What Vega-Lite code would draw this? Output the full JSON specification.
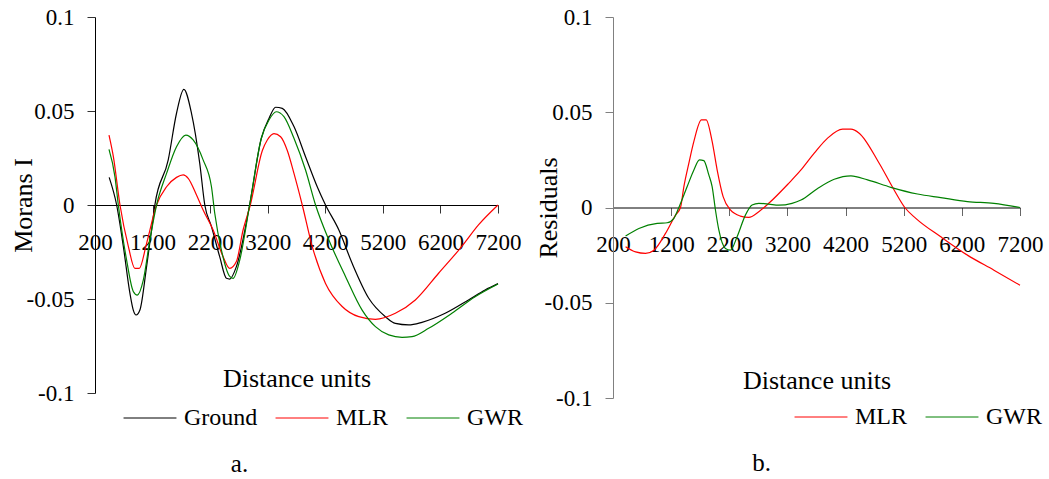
{
  "$schema": "https://vega.github.io/schema/vega-lite/v6.json",
  "background": "white",
  "padding": {"left": 10, "top": 6, "right": 5, "bottom": 5},
  "config": {
    "view": {"stroke": null},
    "font": "Liberation Serif",
    "axis": {"grid": false, "labelFont": "Liberation Serif", "titleFont": "Liberation Serif", "labelFontSize": 23, "titleFontSize": 26, "labelColor": "black", "titleColor": "black", "titleFontWeight": "normal", "domainColor": "black", "tickColor": "#333333", "domainWidth": 1, "tickWidth": 1},
    "legend": {"labelFont": "Liberation Serif", "labelFontSize": 24, "labelColor": "black", "symbolType": "stroke", "symbolSize": 2800, "symbolStrokeWidth": 1, "labelOffset": 7, "columnPadding": 15, "padding": 0, "direction": "horizontal", "orient": "none"},
    "title": {"font": "Liberation Serif", "fontSize": 25, "fontWeight": "normal", "color": "black"}
  },
  "datasets": {
    "left": [
      {"series": "Ground", "d": 446, "v": 0.0147}, {"series": "Ground", "d": 576, "v": 0}, {"series": "Ground", "d": 692, "v": -0.022}, {"series": "Ground", "d": 807, "v": -0.047}, {"series": "Ground", "d": 865, "v": -0.0559}, {"series": "Ground", "d": 914, "v": -0.0585}, {"series": "Ground", "d": 980, "v": -0.0559}, {"series": "Ground", "d": 1096, "v": -0.0328}, {"series": "Ground", "d": 1183, "v": -0.0133}, {"series": "Ground", "d": 1240, "v": 0}, {"series": "Ground", "d": 1472, "v": 0.024}, {"series": "Ground", "d": 1616, "v": 0.0488}, {"series": "Ground", "d": 1743, "v": 0.0615}, {"series": "Ground", "d": 1876, "v": 0.0488}, {"series": "Ground", "d": 2020, "v": 0.022}, {"series": "Ground", "d": 2107, "v": 0}, {"series": "Ground", "d": 2223, "v": -0.0115}, {"series": "Ground", "d": 2366, "v": -0.0275}, {"series": "Ground", "d": 2483, "v": -0.039}, {"series": "Ground", "d": 2540, "v": -0.0394}, {"series": "Ground", "d": 2656, "v": -0.0328}, {"series": "Ground", "d": 2886, "v": 0}, {"series": "Ground", "d": 3089, "v": 0.0355}, {"series": "Ground", "d": 3222, "v": 0.046}, {"series": "Ground", "d": 3337, "v": 0.052}, {"series": "Ground", "d": 3453, "v": 0.0514}, {"series": "Ground", "d": 3656, "v": 0.0417}, {"series": "Ground", "d": 3857, "v": 0.0257}, {"series": "Ground", "d": 4060, "v": 0.0097}, {"series": "Ground", "d": 4204, "v": 0}, {"series": "Ground", "d": 4436, "v": -0.0133}, {"series": "Ground", "d": 4666, "v": -0.031}, {"series": "Ground", "d": 4955, "v": -0.0496}, {"series": "Ground", "d": 5244, "v": -0.0594}, {"series": "Ground", "d": 5417, "v": -0.063}, {"series": "Ground", "d": 5648, "v": -0.0638}, {"series": "Ground", "d": 5879, "v": -0.0624}, {"series": "Ground", "d": 6283, "v": -0.0576}, {"series": "Ground", "d": 6688, "v": -0.0505}, {"series": "Ground", "d": 6976, "v": -0.0452}, {"series": "Ground", "d": 7200, "v": -0.0418},
      {"series": "MLR", "d": 443, "v": 0.0372}, {"series": "MLR", "d": 519, "v": 0.0257}, {"series": "MLR", "d": 634, "v": 0}, {"series": "MLR", "d": 779, "v": -0.022}, {"series": "MLR", "d": 893, "v": -0.0337}, {"series": "MLR", "d": 969, "v": -0.0337}, {"series": "MLR", "d": 1096, "v": -0.0204}, {"series": "MLR", "d": 1269, "v": 0}, {"series": "MLR", "d": 1443, "v": 0.0097}, {"series": "MLR", "d": 1616, "v": 0.0147}, {"series": "MLR", "d": 1732, "v": 0.016}, {"series": "MLR", "d": 1819, "v": 0.0142}, {"series": "MLR", "d": 1963, "v": 0.0053}, {"series": "MLR", "d": 2078, "v": -0.0027}, {"series": "MLR", "d": 2252, "v": -0.0133}, {"series": "MLR", "d": 2425, "v": -0.0275}, {"series": "MLR", "d": 2540, "v": -0.0337}, {"series": "MLR", "d": 2656, "v": -0.0301}, {"series": "MLR", "d": 2772, "v": -0.0133}, {"series": "MLR", "d": 2898, "v": 0}, {"series": "MLR", "d": 3107, "v": 0.029}, {"series": "MLR", "d": 3193, "v": 0.0346}, {"series": "MLR", "d": 3309, "v": 0.038}, {"series": "MLR", "d": 3424, "v": 0.0363}, {"series": "MLR", "d": 3540, "v": 0.029}, {"series": "MLR", "d": 3656, "v": 0.0168}, {"series": "MLR", "d": 3800, "v": 0}, {"series": "MLR", "d": 3973, "v": -0.022}, {"series": "MLR", "d": 4204, "v": -0.0417}, {"series": "MLR", "d": 4493, "v": -0.054}, {"series": "MLR", "d": 4782, "v": -0.0594}, {"series": "MLR", "d": 5071, "v": -0.0608}, {"series": "MLR", "d": 5417, "v": -0.0576}, {"series": "MLR", "d": 5764, "v": -0.0505}, {"series": "MLR", "d": 6168, "v": -0.0363}, {"series": "MLR", "d": 6572, "v": -0.022}, {"series": "MLR", "d": 6861, "v": -0.0106}, {"series": "MLR", "d": 7200, "v": 0},
      {"series": "GWR", "d": 443, "v": 0.0296}, {"series": "GWR", "d": 547, "v": 0.015}, {"series": "GWR", "d": 605, "v": 0}, {"series": "GWR", "d": 749, "v": -0.0293}, {"series": "GWR", "d": 865, "v": -0.046}, {"series": "GWR", "d": 935, "v": -0.0479}, {"series": "GWR", "d": 1039, "v": -0.04}, {"series": "GWR", "d": 1153, "v": -0.0186}, {"series": "GWR", "d": 1269, "v": 0}, {"series": "GWR", "d": 1443, "v": 0.0168}, {"series": "GWR", "d": 1616, "v": 0.031}, {"series": "GWR", "d": 1777, "v": 0.0372}, {"series": "GWR", "d": 1905, "v": 0.0346}, {"series": "GWR", "d": 2078, "v": 0.024}, {"series": "GWR", "d": 2223, "v": 0.0097}, {"series": "GWR", "d": 2280, "v": -0.0044}, {"series": "GWR", "d": 2396, "v": -0.024}, {"series": "GWR", "d": 2540, "v": -0.038}, {"series": "GWR", "d": 2598, "v": -0.039}, {"series": "GWR", "d": 2714, "v": -0.0293}, {"series": "GWR", "d": 2886, "v": 0}, {"series": "GWR", "d": 3089, "v": 0.0355}, {"series": "GWR", "d": 3222, "v": 0.0452}, {"series": "GWR", "d": 3349, "v": 0.0496}, {"series": "GWR", "d": 3482, "v": 0.047}, {"series": "GWR", "d": 3656, "v": 0.0355}, {"series": "GWR", "d": 3857, "v": 0.0186}, {"series": "GWR", "d": 4031, "v": 0}, {"series": "GWR", "d": 4262, "v": -0.0186}, {"series": "GWR", "d": 4551, "v": -0.038}, {"series": "GWR", "d": 4840, "v": -0.0559}, {"series": "GWR", "d": 5071, "v": -0.0647}, {"series": "GWR", "d": 5302, "v": -0.0691}, {"series": "GWR", "d": 5533, "v": -0.0704}, {"series": "GWR", "d": 5706, "v": -0.07}, {"series": "GWR", "d": 5995, "v": -0.0656}, {"series": "GWR", "d": 6399, "v": -0.0576}, {"series": "GWR", "d": 6803, "v": -0.0488}, {"series": "GWR", "d": 7200, "v": -0.042}
    ],
    "right": [
      {"series": "MLR", "d": 416, "v": -0.0206}, {"series": "MLR", "d": 588, "v": -0.0233}, {"series": "MLR", "d": 760, "v": -0.0241}, {"series": "MLR", "d": 904, "v": -0.0224}, {"series": "MLR", "d": 1103, "v": -0.0136}, {"series": "MLR", "d": 1275, "v": -0.004}, {"series": "MLR", "d": 1361, "v": 0}, {"series": "MLR", "d": 1419, "v": 0.011}, {"series": "MLR", "d": 1505, "v": 0.0233}, {"series": "MLR", "d": 1591, "v": 0.0347}, {"series": "MLR", "d": 1721, "v": 0.046}, {"series": "MLR", "d": 1802, "v": 0.046}, {"series": "MLR", "d": 1905, "v": 0.0347}, {"series": "MLR", "d": 1991, "v": 0.0198}, {"series": "MLR", "d": 2094, "v": 0.0057}, {"series": "MLR", "d": 2219, "v": -0.0013}, {"series": "MLR", "d": 2391, "v": -0.0045}, {"series": "MLR", "d": 2535, "v": -0.0052}, {"series": "MLR", "d": 2707, "v": -0.0022}, {"series": "MLR", "d": 2879, "v": 0.0022}, {"series": "MLR", "d": 3222, "v": 0.0127}, {"series": "MLR", "d": 3433, "v": 0.0197}, {"series": "MLR", "d": 3661, "v": 0.0285}, {"series": "MLR", "d": 3891, "v": 0.0364}, {"series": "MLR", "d": 4149, "v": 0.0411}, {"series": "MLR", "d": 4292, "v": 0.0411}, {"series": "MLR", "d": 4434, "v": 0.039}, {"series": "MLR", "d": 4778, "v": 0.0232}, {"series": "MLR", "d": 5035, "v": 0.0092}, {"series": "MLR", "d": 5219, "v": 0}, {"series": "MLR", "d": 5408, "v": -0.0057}, {"series": "MLR", "d": 5837, "v": -0.0154}, {"series": "MLR", "d": 6295, "v": -0.025}, {"series": "MLR", "d": 6752, "v": -0.0329}, {"series": "MLR", "d": 7200, "v": -0.0408},
      {"series": "GWR", "d": 416, "v": -0.015}, {"series": "GWR", "d": 645, "v": -0.011}, {"series": "GWR", "d": 960, "v": -0.0083}, {"series": "GWR", "d": 1132, "v": -0.008}, {"series": "GWR", "d": 1247, "v": -0.0057}, {"series": "GWR", "d": 1333, "v": 0}, {"series": "GWR", "d": 1476, "v": 0.011}, {"series": "GWR", "d": 1591, "v": 0.0197}, {"series": "GWR", "d": 1687, "v": 0.025}, {"series": "GWR", "d": 1762, "v": 0.0246}, {"series": "GWR", "d": 1848, "v": 0.0171}, {"series": "GWR", "d": 1905, "v": 0.011}, {"series": "GWR", "d": 1962, "v": -0.0013}, {"series": "GWR", "d": 2020, "v": -0.0118}, {"series": "GWR", "d": 2133, "v": -0.0215}, {"series": "GWR", "d": 2219, "v": -0.0224}, {"series": "GWR", "d": 2334, "v": -0.0154}, {"series": "GWR", "d": 2477, "v": -0.004}, {"series": "GWR", "d": 2592, "v": 0.0013}, {"series": "GWR", "d": 2707, "v": 0.0022}, {"series": "GWR", "d": 2879, "v": 0.0018}, {"series": "GWR", "d": 3050, "v": 0.0012}, {"series": "GWR", "d": 3279, "v": 0.0022}, {"series": "GWR", "d": 3433, "v": 0.0039}, {"series": "GWR", "d": 3720, "v": 0.01}, {"series": "GWR", "d": 4005, "v": 0.0148}, {"series": "GWR", "d": 4292, "v": 0.0166}, {"series": "GWR", "d": 4578, "v": 0.0145}, {"series": "GWR", "d": 4978, "v": 0.0106}, {"series": "GWR", "d": 5437, "v": 0.0071}, {"series": "GWR", "d": 5837, "v": 0.0052}, {"series": "GWR", "d": 6295, "v": 0.0031}, {"series": "GWR", "d": 6752, "v": 0.0022}, {"series": "GWR", "d": 7200, "v": 0}
    ]
  },
  "bounds": "flush",
  "spacing": 115,
  "resolve": {"scale": {"color": "independent", "x": "independent", "y": "independent"}, "legend": {"color": "independent"}},
  "hconcat": [
    {
      "width": 403,
      "height": 376,
      "data": {"name": "left"},
      "title": {"text": "a.", "orient": "bottom", "anchor": "middle", "dx": -57, "offset": 22},
      "mark": {"type": "line", "strokeWidth": 1.2, "interpolate": "monotone"},
      "encoding": {
        "x": {"field": "d", "type": "quantitative", "scale": {"domain": [200, 7200], "nice": false, "zero": false},
          "axis": {"orient": "bottom", "offset": -188, "values": [200, 1200, 2200, 3200, 4200, 5200, 6200, 7200], "labelExpr": "format(datum.value, 'd')", "tickSize": 8, "labelPadding": 18, "labelFlush": false, "labelOverlap": false, "title": "Distance units", "titlePadding": 111}},
        "y": {"field": "v", "type": "quantitative", "scale": {"domain": [-0.1, 0.1], "nice": false, "zero": false},
          "axis": {"values": [-0.1, -0.05, 0, 0.05, 0.1], "tickSize": 8, "labelPadding": 13, "labelExpr": "(datum.value < 0 ? '-' : '') + format(abs(datum.value), '~g')", "title": "Morans I", "titleX": -72, "titleY": 188, "titleAngle": -90, "titleBaseline": "middle", "titleAlign": "center"}},
        "color": {"field": "series", "type": "nominal", "sort": ["Ground", "MLR", "GWR"],
          "scale": {"domain": ["Ground", "MLR", "GWR"], "range": ["#000000", "#ff0000", "#008000"]},
          "legend": {"title": null, "legendX": 28, "legendY": 374}}
      }
    },
    {
      "width": 407,
      "height": 381,
      "data": {"name": "right"},
      "title": {"text": "b.", "orient": "bottom", "anchor": "middle", "dx": -55, "offset": 22},
      "mark": {"type": "line", "strokeWidth": 1.2, "interpolate": "monotone"},
      "encoding": {
        "x": {"field": "d", "type": "quantitative", "scale": {"domain": [200, 7200], "nice": false, "zero": false},
          "axis": {"orient": "bottom", "offset": -190.5, "values": [200, 1200, 2200, 3200, 4200, 5200, 6200, 7200], "labelExpr": "format(datum.value, 'd')", "tickSize": 8, "labelPadding": 18, "labelFlush": false, "labelOverlap": false, "title": "Distance units", "titlePadding": 111, "tickColor": "#666666"}},
        "y": {"field": "v", "type": "quantitative", "scale": {"domain": [-0.1, 0.1], "nice": false, "zero": false},
          "axis": {"values": [-0.1, -0.05, 0, 0.05, 0.1], "tickSize": 8, "labelPadding": 13, "labelExpr": "(datum.value < 0 ? '-' : '') + format(abs(datum.value), '~g')", "title": "Residuals", "titleX": -65, "titleY": 190.5, "titleAngle": -90, "titleBaseline": "middle", "titleAlign": "center", "domainColor": "#808080", "tickColor": "#808080"}},
        "color": {"field": "series", "type": "nominal", "sort": ["MLR", "GWR"],
          "scale": {"domain": ["MLR", "GWR"], "range": ["#ff0000", "#008000"]},
          "legend": {"title": null, "legendX": 181, "legendY": 373}}
      }
    }
  ]
}
